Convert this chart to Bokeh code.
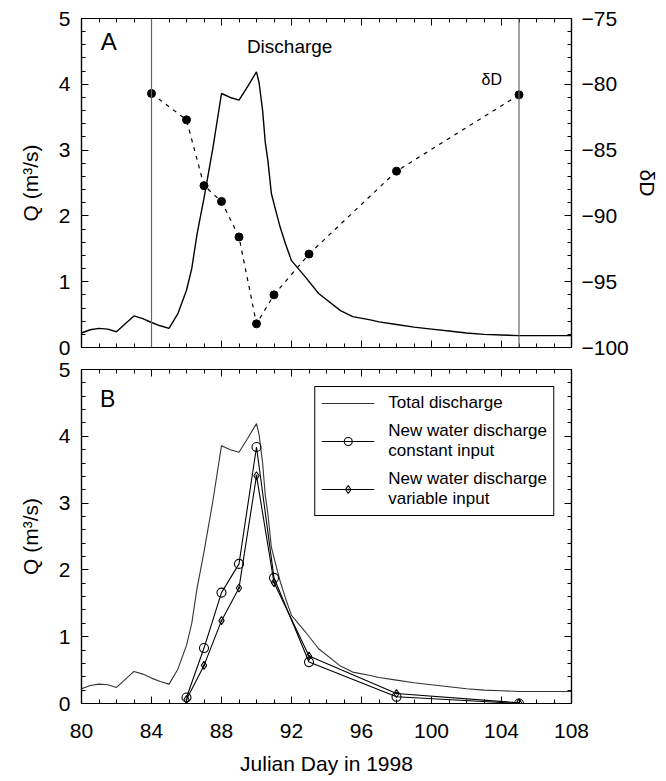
from bokeh.plotting import figure
from bokeh.models import (Range1d, LinearAxis, FixedTicker, Span, Label,
                          Legend, LegendItem)
from bokeh.layouts import column
from bokeh.embed import file_html
from bokeh.resources import INLINE

# ---------------- data ----------------
# total discharge hydrograph (Julian day, Q in m3/s)
q_days = [80, 80.5, 81, 81.5, 82, 82.5, 83, 83.5, 84, 84.5, 85, 85.5, 86, 86.3,
          86.6, 87, 87.5, 88, 88.5, 89, 89.5, 90, 90.15, 90.35, 90.5, 90.65,
          90.85, 91.1, 91.35, 91.65, 92, 92.8, 93.55, 94.8, 95.5, 96.5, 97,
          98, 99, 100, 101, 102, 103, 104, 105, 106, 107, 108]
q_total = [0.22, 0.27, 0.29, 0.28, 0.24, 0.36, 0.48, 0.44, 0.38, 0.33, 0.29,
           0.51, 0.87, 1.20, 1.72, 2.27, 3.02, 3.86, 3.80, 3.76, 3.97, 4.19,
           4.02, 3.60, 3.12, 2.84, 2.34, 2.08, 1.83, 1.58, 1.32, 1.07, 0.82,
           0.56, 0.47, 0.42, 0.39, 0.35, 0.31, 0.28, 0.25, 0.22, 0.20, 0.19,
           0.18, 0.18, 0.18, 0.18]

# deuterium samples
dd_days = [84, 86, 87, 88, 89, 90, 91, 93, 98, 105]
dd_vals = [-80.7, -82.7, -87.7, -88.9, -91.6, -98.2, -96.0, -92.9, -86.6, -80.8]

# sampling window
window_days = [84, 105]

# new water discharge
nw_days = [86, 87, 88, 89, 90, 91, 93, 98, 105]
nw_const = [0.09, 0.83, 1.66, 2.09, 3.84, 1.88, 0.62, 0.10, 0.0]
nw_var = [0.06, 0.57, 1.24, 1.73, 3.41, 1.81, 0.71, 0.15, 0.01]

# ticks
x_major = [80, 84, 88, 92, 96, 100, 104, 108]
x_minor = list(range(80, 109))
q_major = [0, 1, 2, 3, 4, 5]
q_minor = [i / 5 for i in range(0, 26)]
dd_major = [-100, -95, -90, -85, -80, -75]
dd_minor = list(range(-100, -74))
dd_labels = {v: "\u2212" + str(abs(v)) for v in dd_major}

FONT = "Liberation Sans"
TICK_FS = "21px"
TITLE_FS = "21px"


def style_axis(ax):
    ax.major_tick_in = 7
    ax.major_tick_out = 0
    ax.minor_tick_in = 4
    ax.minor_tick_out = 0
    ax.axis_line_color = "black"
    ax.axis_line_width = 1.2
    ax.major_tick_line_color = "black"
    ax.minor_tick_line_color = "black"
    ax.major_label_text_font = FONT
    ax.major_label_text_font_size = TICK_FS
    ax.major_label_text_color = "black"
    ax.axis_label_text_font = FONT
    ax.axis_label_text_font_size = TITLE_FS
    ax.axis_label_text_font_style = "normal"
    ax.axis_label_text_color = "black"


def hide_labels(ax, ticks):
    ax.major_label_overrides = {t: "" for t in ticks}
    ax.major_label_text_font_size = "0px"
    ax.major_label_standoff = 0


def make_fig(bottom_border, top_border, frame_h):
    p = figure(frame_width=490, frame_height=frame_h, x_range=Range1d(80, 108),
               y_range=Range1d(0, 5), output_backend="svg",
               toolbar_location=None, min_border_left=81,
               min_border_right=80, min_border_top=top_border,
               min_border_bottom=bottom_border)
    p.xgrid.visible = False
    p.ygrid.visible = False
    p.outline_line_color = "black"
    p.outline_line_width = 1.2
    p.background_fill_color = "white"
    p.border_fill_color = "white"
    return p


# ---------------- panel A ----------------
p1 = make_fig(12, 18, 329)
p1.extra_y_ranges = {"dD": Range1d(-100, -75)}

xa = p1.xaxis[0]
xa.ticker = FixedTicker(ticks=x_major, minor_ticks=x_minor)
style_axis(xa)
hide_labels(xa, x_major)

ya = p1.yaxis[0]
ya.ticker = FixedTicker(ticks=q_major, minor_ticks=q_minor)
style_axis(ya)
ya.axis_label = "Q (m\u00b3/s)"
ya.major_label_standoff = 11
ya.axis_label_standoff = 14

top1 = LinearAxis(ticker=FixedTicker(ticks=x_major, minor_ticks=x_minor))
style_axis(top1)
hide_labels(top1, x_major)
p1.add_layout(top1, "above")

r1 = LinearAxis(y_range_name="dD",
                ticker=FixedTicker(ticks=dd_major, minor_ticks=dd_minor))
style_axis(r1)
r1.major_label_overrides = dd_labels
r1.major_label_standoff = 10
r1.axis_label = "\u03b4D"
r1.axis_label_standoff = 4
p1.add_layout(r1, "right")

for d in window_days:
    p1.add_layout(Span(location=d, dimension="height", line_color="#666666",
                       line_width=1.2))

p1.line(q_days, q_total, line_color="black", line_width=1.4)
p1.line(dd_days, dd_vals, y_range_name="dD", line_color="black",
        line_width=1.2, line_dash="4 5")
p1.scatter(dd_days, dd_vals, y_range_name="dD", size=8, color="black")

p1.add_layout(Label(x=81.1, y=4.44, text="A", text_font=FONT,
                    text_font_size="24px", text_color="black"))
p1.add_layout(Label(x=89.45, y=4.41, text="Discharge", text_font=FONT,
                    text_font_size="19px", text_color="black"))
p1.add_layout(Label(x=102.86, y=3.95, text="\u03b4D", text_font=FONT,
                    text_font_size="16px", text_color="black"))

# ---------------- panel B ----------------
p2 = make_fig(10, 10, 334)

xb = p2.xaxis[0]
xb.ticker = FixedTicker(ticks=x_major, minor_ticks=x_minor)
style_axis(xb)
xb.axis_label = "Julian Day in 1998"
xb.major_label_standoff = 20
xb.axis_label_standoff = 11

yb = p2.yaxis[0]
yb.ticker = FixedTicker(ticks=q_major, minor_ticks=q_minor)
style_axis(yb)
yb.axis_label = "Q (m\u00b3/s)"
yb.major_label_standoff = 11
yb.axis_label_standoff = 14

top2 = LinearAxis(ticker=FixedTicker(ticks=x_major, minor_ticks=x_minor))
style_axis(top2)
hide_labels(top2, x_major)
p2.add_layout(top2, "above")

r2 = LinearAxis(ticker=FixedTicker(ticks=q_major, minor_ticks=q_minor))
style_axis(r2)
hide_labels(r2, q_major)
p2.add_layout(r2, "right")

lt = p2.line(q_days, q_total, line_color="#333333", line_width=1.1)
lc = p2.line(nw_days, nw_const, line_color="black", line_width=1.1)
sc = p2.scatter(nw_days, nw_const, marker="circle", size=9,
                fill_color="white", fill_alpha=0, line_color="black",
                line_width=1.1)
lv = p2.line(nw_days, nw_var, line_color="black", line_width=1.1)
sv = p2.scatter(nw_days, nw_var, marker="diamond_dot", size=8,
                fill_color="white", fill_alpha=0, line_color="black",
                line_width=1.1)

p2.add_layout(Label(x=81.05, y=4.36, text="B", text_font=FONT,
                    text_font_size="23px", text_color="black"))

legend = Legend(items=[
    LegendItem(label="Total discharge", renderers=[lt]),
    LegendItem(label="New water discharge\nconstant input", renderers=[lc, sc]),
    LegendItem(label="New water discharge\nvariable input", renderers=[lv, sv]),
], location="top_right")
legend.margin = 17
legend.padding = 6
legend.spacing = 8
legend.glyph_width = 53
legend.label_standoff = 14
legend.label_text_font = FONT
legend.label_text_font_size = "17px"
legend.label_text_color = "black"
legend.border_line_color = "black"
legend.border_line_alpha = 1
legend.border_line_width = 1.2
legend.background_fill_alpha = 1
p2.add_layout(legend)

layout = column(p1, p2, spacing=0)
open("out.html", "w").write(file_html(layout, INLINE))
